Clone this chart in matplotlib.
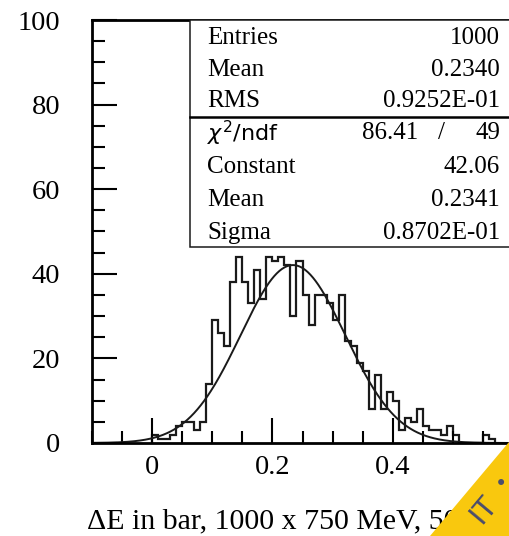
import numpy as np
import matplotlib
matplotlib.use("Agg")
from matplotlib import pyplot as plt
from matplotlib.patches import Rectangle, Polygon
from matplotlib.ticker import MultipleLocator

# histogram: 0.01 wide bins starting at 0
bin_lo = 0.0
bin_w = 0.01
counts = [2, 1, 1, 2, 4, 5, 5, 3, 5, 14,
          29, 26, 23, 38, 44, 38, 33, 41, 34, 44,
          43, 44, 42, 30, 43, 35, 28, 35, 35, 33,
          29, 35, 24, 23, 19, 17, 8, 16, 8, 12,
          10, 3, 6, 5, 8, 4, 3, 3, 2, 4,
          2, 0, 0, 0, 0, 2, 1]

# gaussian fit parameters
fit_const = 42.06
fit_mean = 0.2341
fit_sigma = 0.08702

stats_top = [("Entries", "1000"), ("Mean", "0.2340"), ("RMS", "0.9252E-01")]
chi2_vals = ("86.41", "49")
stats_fit = [("Constant", "42.06"), ("Mean", "0.2341"), ("Sigma", "0.8702E-01")]

xticks = [0, 0.2, 0.4]
xtick_labels = ["0", "0.2", "0.4"]
yticks = [0, 20, 40, 60, 80, 100]

W, H = 509, 536
plt.rcParams['font.family'] = ['Liberation Serif', 'DejaVu Serif']
plt.rcParams['font.size'] = 18


def fx(px):
    return px / W


def fy(py):
    return 1 - py / H


fig = plt.figure(figsize=(W / 100, H / 100), dpi=100)
ax = fig.add_axes([fx(92), fy(443), (513 - 92) / W, (443 - 20) / H])

edges = bin_lo + bin_w * np.arange(len(counts) + 1)
ax.stairs(counts, edges, color='#1a1a1a', linewidth=1.6)

xf = np.linspace(-0.1, 0.6, 500)
ax.plot(xf, fit_const * np.exp(-0.5 * ((xf - fit_mean) / fit_sigma) ** 2),
        color='#1a1a1a', linewidth=1.4)

ax.set_xlim(-0.1, 0.6)
ax.set_ylim(0, 100)
ax.set_xticks(xticks)
ax.set_xticklabels(xtick_labels)
ax.set_yticks(yticks)
ax.xaxis.set_minor_locator(MultipleLocator(0.05))
ax.yaxis.set_minor_locator(MultipleLocator(5))
ax.tick_params(which='both', direction='in', width=1.5, top=False, right=False,
               labelsize=20.5)
ax.tick_params(which='major', length=18)
ax.tick_params(which='minor', length=9)
ax.tick_params(axis='y', which='major', pad=23)
ax.tick_params(axis='x', which='major', pad=9)
for sp in ax.spines.values():
    sp.set_linewidth(2.0)

# stats box
box_l, box_r = 190, 513
fig.patches.append(Rectangle((fx(box_l), fy(247)), fx(box_r) - fx(box_l),
                             fy(20) - fy(247), transform=fig.transFigure,
                             facecolor='white', edgecolor='#1a1a1a',
                             linewidth=1.1, zorder=3))
fig.lines.append(plt.Line2D([fx(box_l), fx(box_r)], [fy(117), fy(117)],
                            transform=fig.transFigure, color='black',
                            linewidth=1.8, zorder=4))
row_y = [38, 70, 101, 133, 167, 200, 233]
for (lab, val), py in zip(stats_top, row_y[:3]):
    fig.text(fx(207), fy(py), lab, ha='left', va='center', zorder=5)
    fig.text(fx(500), fy(py), val, ha='right', va='center', zorder=5)
fig.text(fx(207), fy(row_y[3]), r"$\chi^2$/ndf", ha='left', va='center',
         family='DejaVu Sans', fontsize=16, zorder=5)
fig.text(fx(418), fy(row_y[3]), chi2_vals[0], ha='right', va='center', zorder=5)
fig.text(fx(441), fy(row_y[3]), "/", ha='center', va='center', zorder=5)
fig.text(fx(500), fy(row_y[3]), chi2_vals[1], ha='right', va='center', zorder=5)
for (lab, val), py in zip(stats_fit, row_y[4:]):
    fig.text(fx(207), fy(py), lab, ha='left', va='center', zorder=5)
    fig.text(fx(500), fy(py), val, ha='right', va='center', zorder=5)

fig.text(fx(87), fy(521), "\u0394E in bar, 1000 x 750 MeV, 50", ha='left',
         va='center', fontsize=21.5)

# yellow corner sticker
fig.patches.append(Polygon([(fx(430), fy(536)), (fx(509), fy(442)),
                            (fx(509), fy(536))], closed=True,
                           transform=fig.transFigure, facecolor='#f9c80e',
                           edgecolor='none', zorder=10))
fig.text(fx(483), fy(510), "IT", rotation=50, ha='center', va='center',
         family='DejaVu Sans', fontsize=21, color='#4b4e6d', zorder=11)
fig.text(fx(501), fy(484), "\u2022", ha='center', va='center',
         family='DejaVu Sans', fontsize=15, color='#4b4e6d', zorder=11)

fig.savefig('out.png', dpi=100, facecolor='white')
